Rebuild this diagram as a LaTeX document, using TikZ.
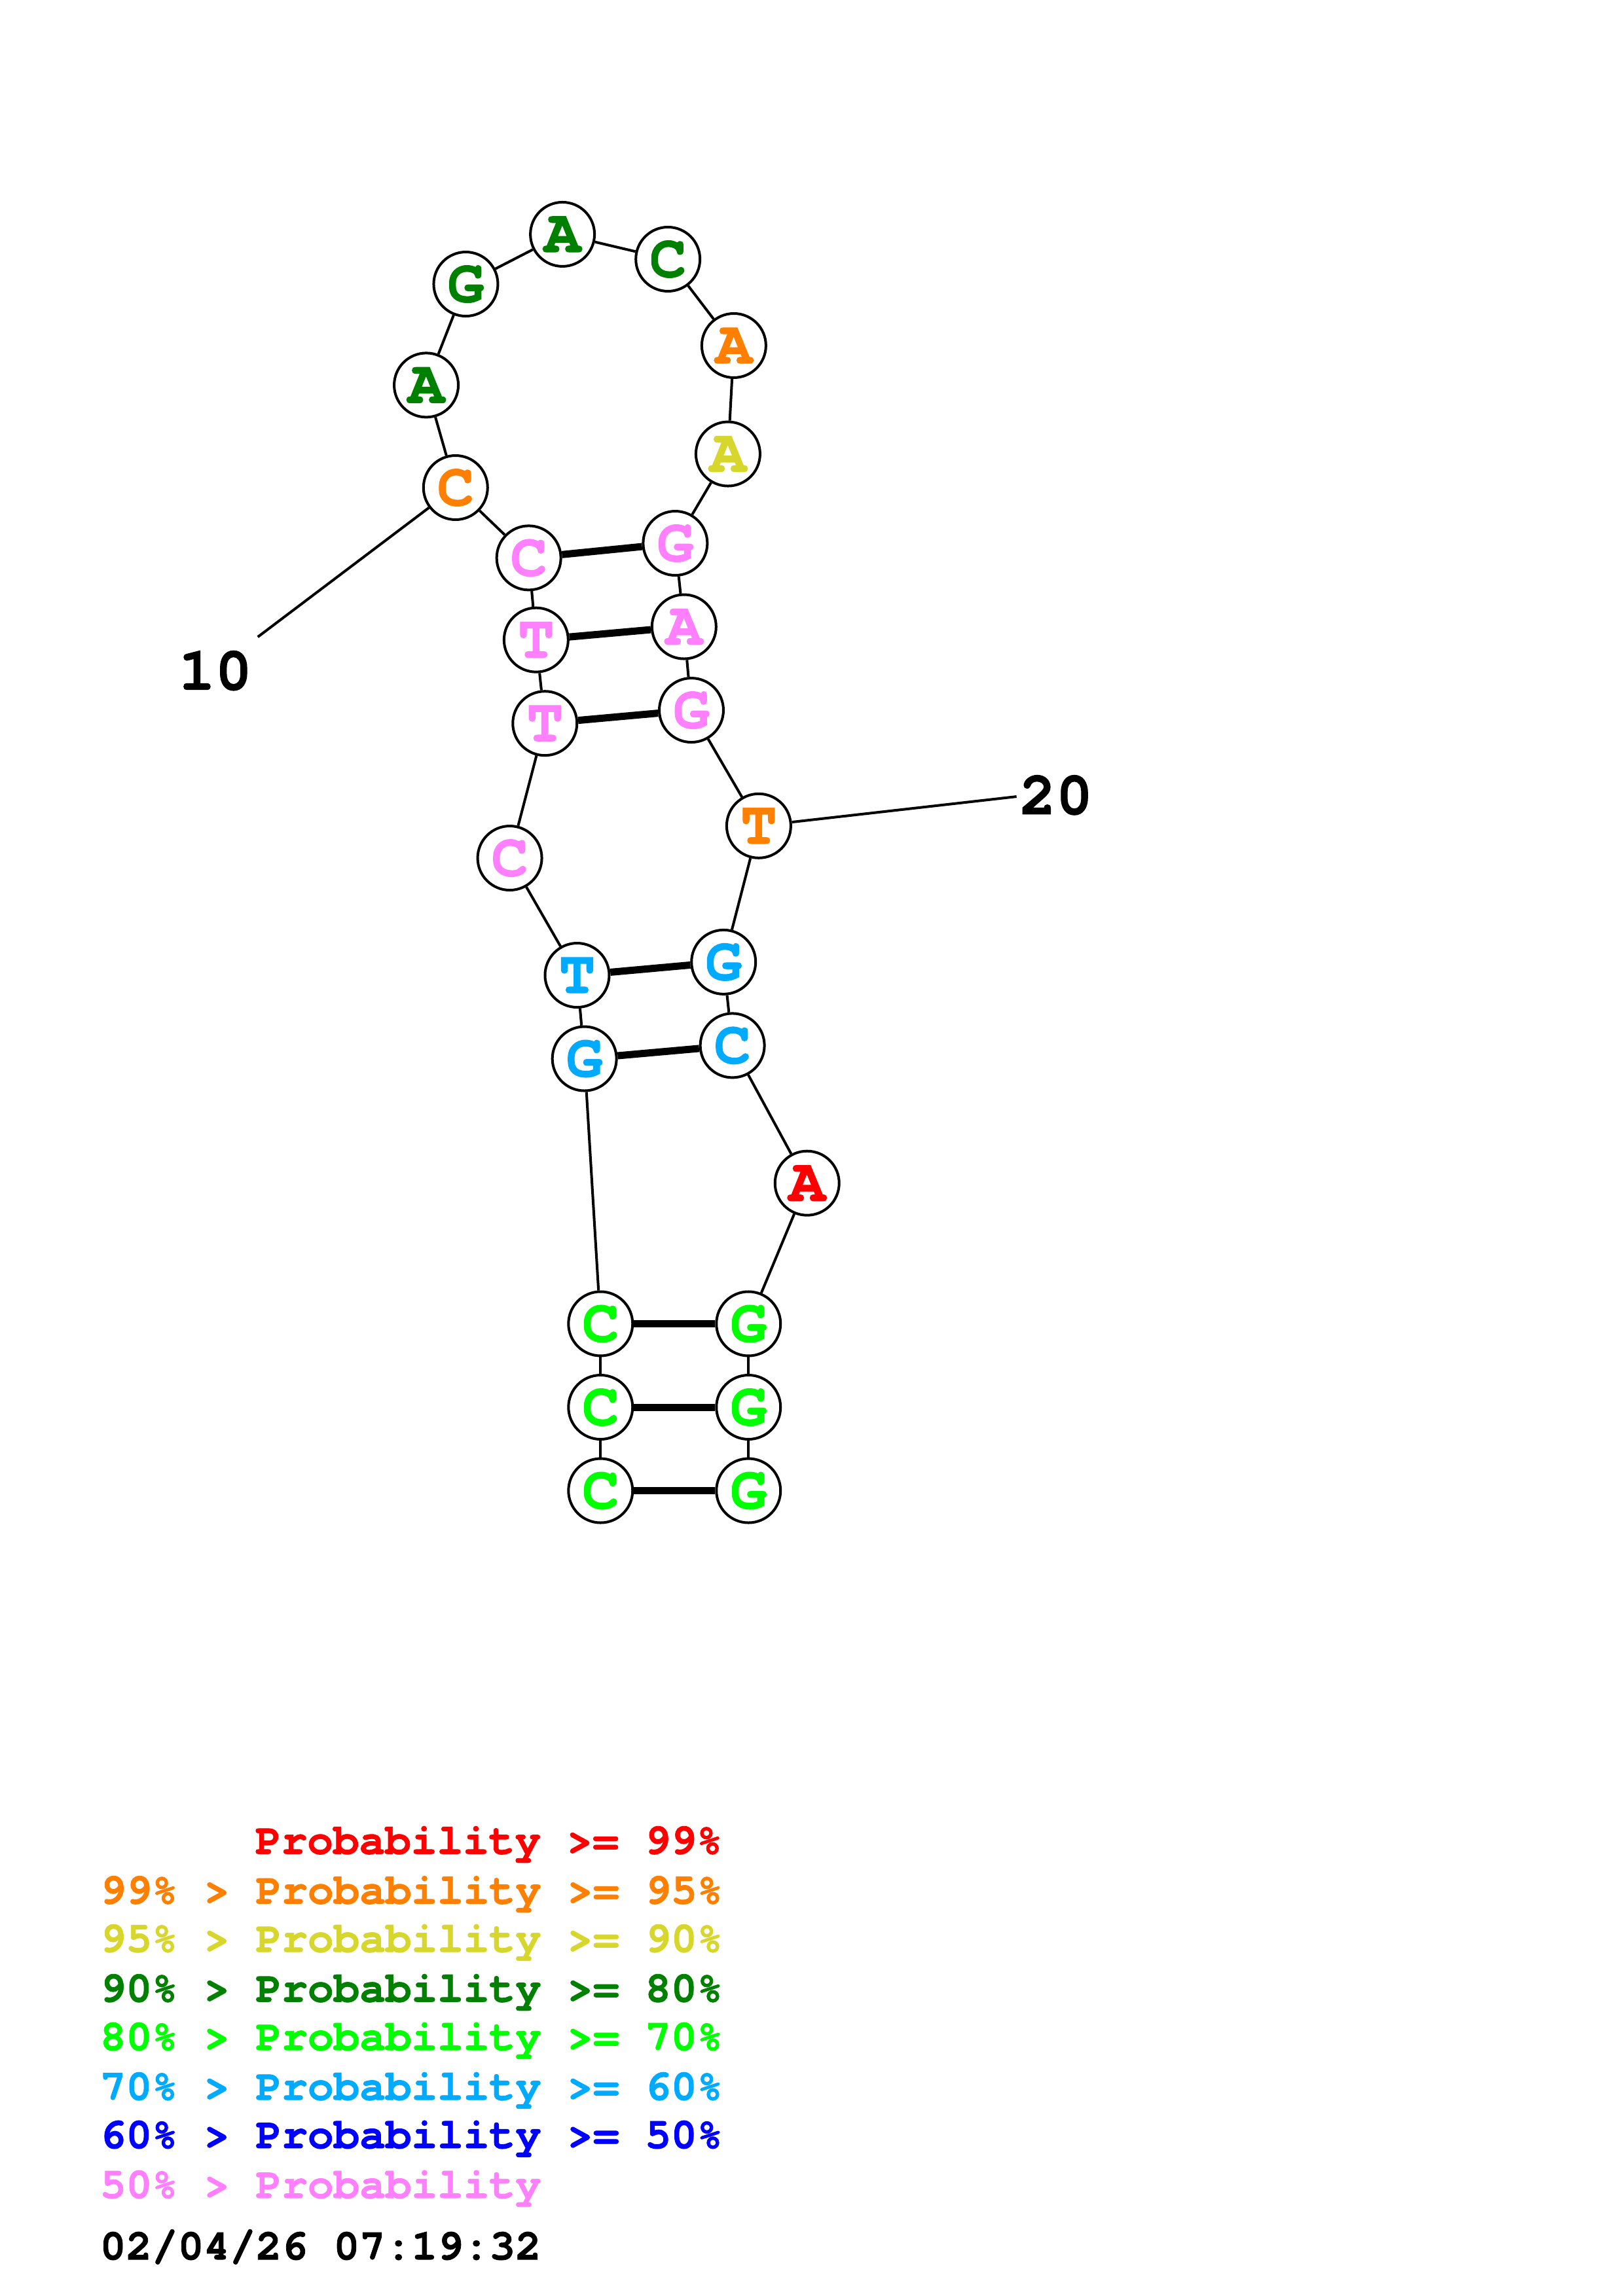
\documentclass[tikz,border=0pt]{standalone}
\usepackage{fontspec}
\newfontfamily\cur[FakeBold=1.2]{texgyrecursor-bold.otf}
\definecolor{pRed}{RGB}{255,0,0}
\definecolor{pOrange}{RGB}{255,128,0}
\definecolor{pYellow}{RGB}{214,214,44}
\definecolor{pDGreen}{RGB}{0,128,0}
\definecolor{pGreen}{RGB}{0,255,0}
\definecolor{pLBlue}{RGB}{0,170,255}
\definecolor{pBlue}{RGB}{0,0,255}
\definecolor{pPink}{RGB}{255,128,255}
\begin{document}
\begin{tikzpicture}[x=0.22374mm,y=-0.22374mm,
  base/.style={circle, draw=black, line width=0.4mm, fill=white, minimum size=9.8mm, inner sep=0pt,
    font=\cur\fontsize{26.5}{26.5}\selectfont},
  bb/.style={line width=0.4mm},
  pair/.style={line width=1.1mm},
  lbl/.style={font=\cur\fontsize{26.5}{26.5}\selectfont},
  leg/.style={anchor=base west, inner sep=0pt, font=\cur\fontsize{18.8}{18.8}\selectfont}]
\useasboundingbox (0,0) rectangle (1108,1568);
% nucleotides
\node[base, text=pGreen]  (n1)  at (410,1018) {C};
\node[base, text=pGreen]  (n2)  at (410,961)  {C};
\node[base, text=pGreen]  (n3)  at (410,904)  {C};
\node[base, text=pLBlue]  (n4)  at (399,723)  {G};
\node[base, text=pLBlue]  (n5)  at (394,666)  {T};
\node[base, text=pPink]   (n6)  at (348,586)  {C};
\node[base, text=pPink]   (n7)  at (372,494)  {T};
\node[base, text=pPink]   (n8)  at (366,437)  {T};
\node[base, text=pPink]   (n9)  at (361,381)  {C};
\node[base, text=pOrange] (n10) at (311,333)  {C};
\node[base, text=pDGreen] (n11) at (291,263)  {A};
\node[base, text=pDGreen] (n12) at (318,194)  {G};
\node[base, text=pDGreen] (n13) at (384,160)  {A};
\node[base, text=pDGreen] (n14) at (456,177)  {C};
\node[base, text=pOrange] (n15) at (501,236)  {A};
\node[base, text=pYellow] (n16) at (497,310)  {A};
\node[base, text=pPink]   (n17) at (461,371)  {G};
\node[base, text=pPink]   (n18) at (467,428)  {A};
\node[base, text=pPink]   (n19) at (472,485)  {G};
\node[base, text=pOrange] (n20) at (518,564)  {T};
\node[base, text=pLBlue]  (n21) at (494,657)  {G};
\node[base, text=pLBlue]  (n22) at (500,714)  {C};
\node[base, text=pRed]    (n23) at (551,808)  {A};
\node[base, text=pGreen]  (n24) at (511,904)  {G};
\node[base, text=pGreen]  (n25) at (511,961)  {G};
\node[base, text=pGreen]  (n26) at (511,1018) {G};
% backbone
\foreach \a/\b in {1/2,2/3,3/4,4/5,5/6,6/7,7/8,8/9,9/10,10/11,11/12,12/13,13/14,14/15,15/16,16/17,17/18,18/19,19/20,20/21,21/22,22/23,23/24,24/25,25/26}
  \draw[bb] (n\a) -- (n\b);
% pairs
\foreach \a/\b in {1/26,2/25,3/24,4/22,5/21,7/19,8/18,9/17}
  \draw[pair] (n\a) -- (n\b);
% position labels
\coordinate (t10) at (176,435);
\coordinate (t20) at (694,544);
\draw[bb] (n10) -- (t10);
\draw[bb] (n20) -- (t20);
\node[lbl] (l10) at (147,458) {10};
\node[lbl] (l20) at (721,543) {20};
% legend
\node[leg, text=pRed]    (g1) at (174,1266) {Probability >= 99\%};
\node[leg, text=pOrange] (g2) at (68,1300) {99\% > Probability >= 95\%};
\node[leg, text=pYellow] (g3) at (68,1333) {95\% > Probability >= 90\%};
\node[leg, text=pDGreen] (g4) at (68,1367) {90\% > Probability >= 80\%};
\node[leg, text=pGreen]  (g5) at (68,1400) {80\% > Probability >= 70\%};
\node[leg, text=pLBlue]  (g6) at (68,1434) {70\% > Probability >= 60\%};
\node[leg, text=pBlue]   (g7) at (68,1467) {60\% > Probability >= 50\%};
\node[leg, text=pPink]   (g8) at (68,1501) {50\% > Probability};
\node[leg, text=black]   (g9) at (68,1543) {02/04/26 07:19:32};
\end{tikzpicture}
\end{document}
